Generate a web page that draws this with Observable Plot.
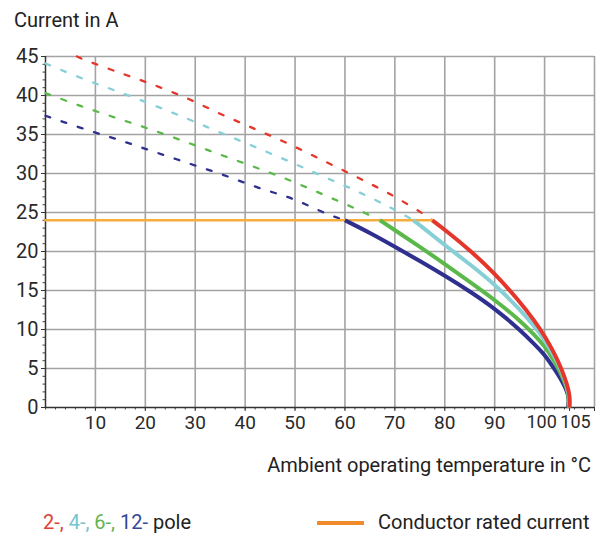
<!DOCTYPE html>
<html>
<head>
<meta charset="utf-8">
<script src="https://cdn.jsdelivr.net/npm/d3@7"></script>
<script src="https://cdn.jsdelivr.net/npm/@observablehq/plot@0.6"></script>
<style>
  body { margin: 0; background: #fff; }
  #wrap { position: relative; width: 599px; height: 537px; font-family: Roboto, "Liberation Sans", sans-serif; color: #222; overflow: hidden; }
  .t { position: absolute; white-space: nowrap; line-height: 1; }
</style>
</head>
<body>
<div id="wrap">
  <div class="t" style="left:14px; top:10px; font-size:20px;">Current in A</div>
  <div id="chart" style="position:absolute; left:0; top:30px;"></div>
  <div class="t" style="right:8px; top:455px; font-size:20px;">Ambient operating temperature in °C</div>
  <div class="t" id="poleLegend" style="left:43px; top:512px; font-size:20px;"></div>
  <div id="ratedSwatch" style="position:absolute; left:317px; top:521px; width:47px; height:4px;"></div>
  <div class="t" style="left:378px; top:512px; font-size:20px;">Conductor rated current</div>
</div>
<script>
// ---------- data ----------
const tempTicks = [10, 20, 30, 40, 50, 60, 70, 80, 90, 100, 105];
const tempGrid = [10, 20, 30, 40, 50, 60, 70, 80, 90, 100, 110];
const currentTicks = [0, 5, 10, 15, 20, 25, 30, 35, 40, 45];

const poleNames = ["2-", "4-", "6-", "12-"];

// Conductor rated current (A)
const ratedTemps = [0, 77.5];
const ratedCurrents = [24, 24];

// extrapolated (dashed) parts
const dash2T = [6.3, 7.7, 14.5, 21.5, 28.5, 35.2, 42, 48.7, 55.5, 62.2, 68.9, 75.5, 77.5];
const dash2I = [45, 44.6, 43.0, 41.4, 39.6, 37.6, 35.7, 33.8, 31.7, 29.6, 27.4, 24.9, 24];
const dash4T = [0, 7.7, 14.5, 21.5, 28.5, 35.2, 42, 49, 55.7, 62.5, 69.2, 73.7];
const dash4I = [44.1, 42.1, 40.5, 38.8, 37.0, 35.2, 33.4, 31.5, 29.6, 27.7, 25.6, 24];
const dash6T = [0, 7.3, 14.3, 21.3, 28.3, 35.1, 42, 49, 56, 62.8, 67];
const dash6I = [40.3, 38.6, 37.1, 35.6, 34.0, 32.4, 30.8, 29.1, 27.2, 25.3, 24];
const dash12T = [0, 7.8, 14.7, 21.7, 28.7, 35.7, 42.6, 49.7, 56.5, 60];
const dash12I = [37.4, 35.7, 34.3, 32.8, 31.3, 29.8, 28.2, 26.7, 24.8, 24];

// derating curves (solid)
const pole2T = [77.5, 80, 85, 90, 95, 98, 100, 102, 103.5, 104.5, 105.1, 105];
const pole2I = [24, 22.8, 20.2, 17.2, 13.6, 11.1, 9.2, 6.9, 4.8, 3.0, 1.4, 0];
const pole4T = [73.7, 75, 80, 85, 90, 95, 98, 100, 102, 103.5, 104.5, 105, 104.9];
const pole4I = [24, 23.4, 20.8, 18.4, 15.8, 12.6, 10.4, 8.7, 6.5, 4.6, 2.7, 1.3, 0];
const pole6T = [67, 70, 75, 80, 85, 90, 95, 98, 100, 102, 103.5, 104.5, 104.9, 104.8];
const pole6I = [24, 22.75, 20.6, 18.4, 16.1, 13.8, 11.2, 9.3, 7.9, 5.9, 4.1, 2.4, 1.2, 0];
const pole12T = [60, 65, 70, 75, 80, 85, 90, 95, 98, 100, 102, 103.5, 104.5, 104.9, 104.7];
const pole12I = [24, 22.4, 20.6, 18.8, 16.9, 14.9, 12.7, 10.0, 8.1, 6.8, 4.9, 3.4, 2.1, 1.1, 0];

// ---------- styles ----------
const poleColors = {"2-": "#e5362b", "4-": "#86cfd6", "6-": "#5bb84a", "12-": "#2e2f8e"};
const legendColors = {"2-": "#e0403a", "4-": "#72c4cf", "6-": "#62b350", "12-": "#34489a"};
const ratedColor = "#f6ad3c";
const ratedLegendColor = "#f08a2a";

const zip = (ts, is, pole) => ts.map((t, k) => ({t, i: is[k], pole}));
const dashed = [
  ...zip(dash2T, dash2I, "2-"), ...zip(dash4T, dash4I, "4-"),
  ...zip(dash6T, dash6I, "6-"), ...zip(dash12T, dash12I, "12-")
];
const solid = [
  ...zip(pole12T, pole12I, "12-"), ...zip(pole6T, pole6I, "6-"),
  ...zip(pole4T, pole4I, "4-"), ...zip(pole2T, pole2I, "2-")
];
const rated = zip(ratedTemps, ratedCurrents, "rated");

const minorX = d3.range(0, 111, 2);
const minorY = d3.range(0, 46, 1);
const labelShift = d => (d === 100 ? -3 : d === 105 ? 6 : 0);

const chart = Plot.plot({
  width: 599,
  height: 410,
  marginTop: 26,
  marginBottom: 33,
  marginLeft: 45,
  marginRight: 5,
  style: {fontFamily: "Roboto, sans-serif", fontSize: "19px", color: "#2a2a2a", background: "transparent", overflow: "visible"},
  x: {domain: [0, 110]},
  y: {domain: [0, 45]},
  color: {domain: poleNames, range: poleNames.map(p => poleColors[p])},
  marks: [
    Plot.gridX(tempGrid, {stroke: "#a3a3a3", strokeOpacity: 1, strokeWidth: 1.6}),
    Plot.gridY(currentTicks.filter(d => d > 0), {stroke: "#a3a3a3", strokeOpacity: 1, strokeWidth: 1.6}),
    Plot.axisX(minorX, {tickSize: 2.5, tickFormat: () => "", stroke: "#444", label: null}),
    Plot.axisY(minorY, {tickSize: 2.5, tickFormat: () => "", stroke: "#444", label: null}),
    Plot.axisX(tempGrid.concat([105]), {tickSize: 4, tickFormat: () => "", stroke: "#333", label: null}),
    ...tempTicks.map(d => Plot.axisX([d], {tickSize: 0, tickPadding: 8, dx: labelShift(d), fontSize: d >= 100 ? 18 : 19, label: null})),
    Plot.axisY(currentTicks, {tickSize: 4, tickPadding: 3, stroke: "#333", label: null, fontSize: 20}),
    Plot.ruleY([0], {stroke: "#333", strokeWidth: 1.5}),
    Plot.ruleX([0], {stroke: "#333", strokeWidth: 1.5}),
    Plot.line(dashed, {x: "t", y: "i", z: "pole", stroke: "pole", strokeWidth: 2.3, strokeDasharray: "5,12", curve: "catmull-rom"}),
    Plot.line(rated, {x: "t", y: "i", stroke: ratedColor, strokeWidth: 2.6}),
    Plot.line(solid, {x: "t", y: "i", z: "pole", stroke: "pole", strokeWidth: 4, curve: "basis", strokeLinecap: "butt"})
  ]
});
document.getElementById("chart").appendChild(chart);

// legend
const leg = document.getElementById("poleLegend");
poleNames.forEach((p, k) => {
  const s = document.createElement("span");
  s.style.color = legendColors[p];
  s.textContent = p + (k < poleNames.length - 1 ? ", " : " ");
  leg.appendChild(s);
});
const pole = document.createElement("span");
pole.textContent = "pole";
leg.appendChild(pole);
document.getElementById("ratedSwatch").style.background = ratedLegendColor;
</script>
</body>
</html>
